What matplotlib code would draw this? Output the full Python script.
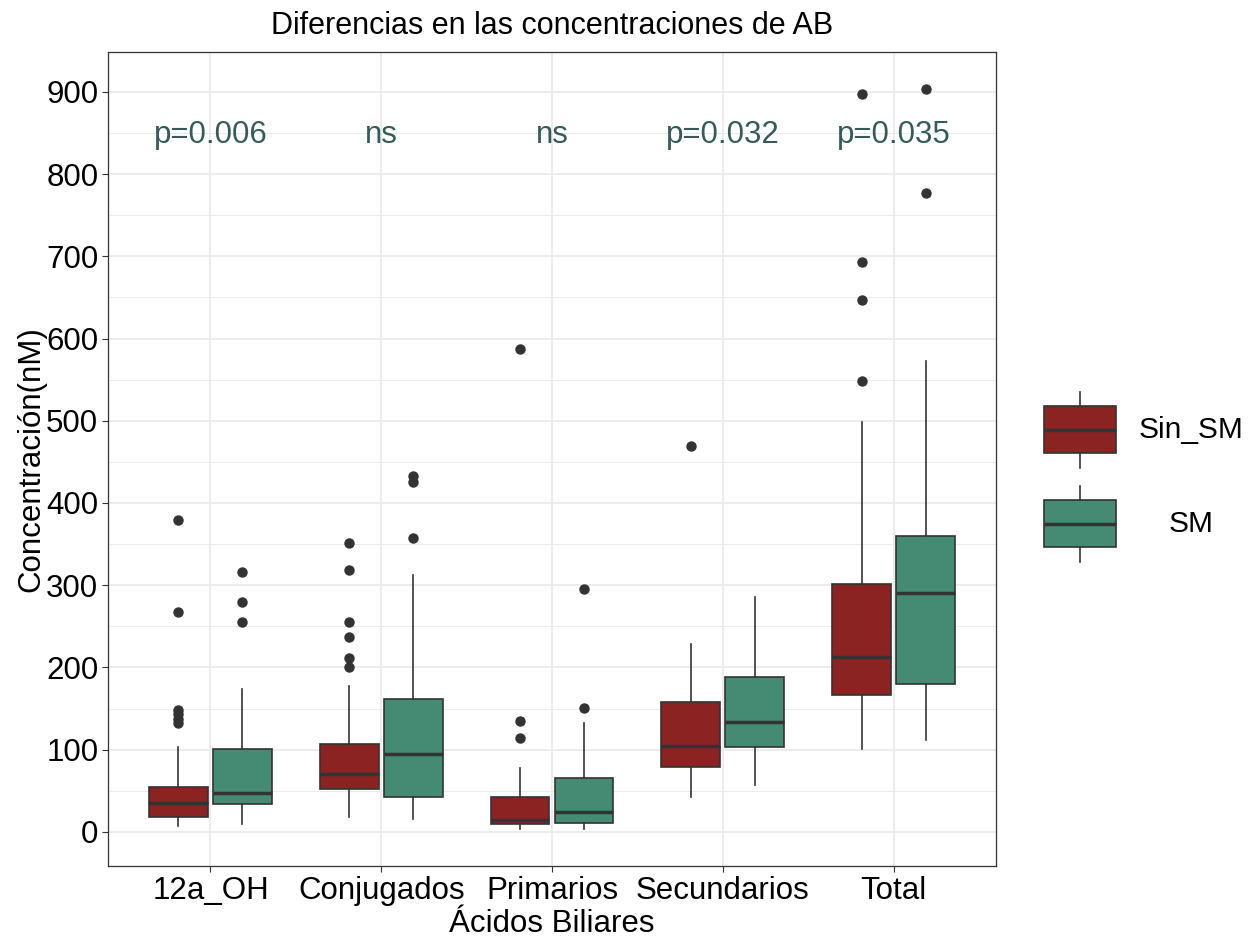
import matplotlib.pyplot as plt
import numpy as np
from matplotlib.ticker import MultipleLocator

plt.rcParams['font.family'] = ['Liberation Sans', 'DejaVu Sans']

# datos (nM)
categorias = ['12a_OH', 'Conjugados', 'Primarios', 'Secundarios', 'Total']
grupos = ['Sin_SM', 'SM']
colores = ['#8B2323', '#458B74']

sin_med = [35, 70, 15, 105, 213]
sin_q1 = [18, 52, 9, 79, 166]
sin_q3 = [55, 107, 42, 158, 301]
sin_lo = [7, 18, 4, 42, 101]
sin_hi = [103, 177, 78, 229, 498]
sin_out = [[379, 267, 148, 143, 137, 132],
           [351, 318, 255, 237, 212, 200],
           [587, 135, 114],
           [469],
           [897, 693, 647, 548]]

sm_med = [47, 95, 24, 134, 290]
sm_q1 = [34, 43, 11, 103, 180]
sm_q3 = [101, 162, 65, 188, 360]
sm_lo = [10, 16, 3, 57, 112]
sm_hi = [174, 313, 132, 286, 573]
sm_out = [[316, 279, 255],
          [433, 426, 358],
          [296, 151],
          [],
          [904, 777]]

p_valores = ['p=0.006', 'ns', 'ns', 'p=0.032', 'p=0.035']
p_y = 848

W, H = 1259, 939
fig = plt.figure(figsize=(W / 100, H / 100), dpi=100)
ax = fig.add_axes([108 / W, 1 - 866 / H, (996 - 108) / W, (866 - 52) / H])


def stats(med, q1, q3, lo, hi, out):
    return [dict(med=m, q1=a, q3=b, whislo=l, whishi=h, fliers=o)
            for m, a, b, l, h, o in zip(med, q1, q3, lo, hi, out)]


def dibujar(axis, st, pos, color, width):
    axis.bxp(st, positions=pos, widths=width, patch_artist=True,
             showcaps=False,
             boxprops=dict(facecolor=color, edgecolor='#333333', linewidth=1.2),
             medianprops=dict(color='#333333', linewidth=2.5, solid_capstyle='butt'),
             whiskerprops=dict(color='#333333', linewidth=1.2),
             flierprops=dict(marker='o', markerfacecolor='#333333',
                             markeredgecolor='#333333', markersize=6.5),
             manage_ticks=False, zorder=3)


x = np.arange(1, len(categorias) + 1)
dibujar(ax, stats(sin_med, sin_q1, sin_q3, sin_lo, sin_hi, sin_out), x - 0.1875, colores[0], 0.345)
dibujar(ax, stats(sm_med, sm_q1, sm_q3, sm_lo, sm_hi, sm_out), x + 0.1875, colores[1], 0.345)

for xi, txt in zip(x, p_valores):
    ax.text(xi, p_y, txt, ha='center', va='center', fontsize=22.5, color='#345B5A')

ax.set_xlim(0.4, 5.6)
ax.set_ylim(-41.5, 948.5)
ax.set_xticks(x)
ax.set_xticklabels(categorias)
ax.yaxis.set_major_locator(MultipleLocator(100))
ax.yaxis.set_minor_locator(MultipleLocator(50))
ax.xaxis.set_minor_locator(MultipleLocator(0.5))
ax.grid(which='major', color='#EBEBEB', linewidth=1.3, zorder=0)
ax.grid(which='minor', axis='y', color='#EBEBEB', linewidth=0.7, zorder=0)
ax.set_axisbelow(True)
ax.tick_params(which='minor', length=0)
ax.tick_params(which='major', length=4, color='#333333', labelsize=22.5, labelcolor='black', pad=3)
for s in ax.spines.values():
    s.set_color('#333333')
    s.set_linewidth(0.9)

ax.set_title('Diferencias en las concentraciones de AB', fontsize=22, pad=13)
ax.set_xlabel('Ácidos Biliares', fontsize=22.5, labelpad=2)
ax.set_ylabel('Concentración(nM)', fontsize=22.5, labelpad=0)

# leyenda dibujada a mano en coordenadas de píxel
leg = fig.add_axes([1030 / W, 1 - 580 / H, 220 / W, 200 / H])
leg.set_xlim(1030, 1250)
leg.set_ylim(580, 380)
leg.axis('off')
claves = [dict(med=430, q1=406, q3=453, whislo=392, whishi=468, fliers=[]),
          dict(med=524, q1=500, q3=547, whislo=486, whishi=562, fliers=[])]
for k, (g, c) in enumerate(zip(grupos, colores)):
    dibujar(leg, [claves[k]], [1080], c, 72)
    leg.text(1191, claves[k]['med'], g, ha='center', va='center', fontsize=21.5)

fig.savefig('out.png', dpi=100)
